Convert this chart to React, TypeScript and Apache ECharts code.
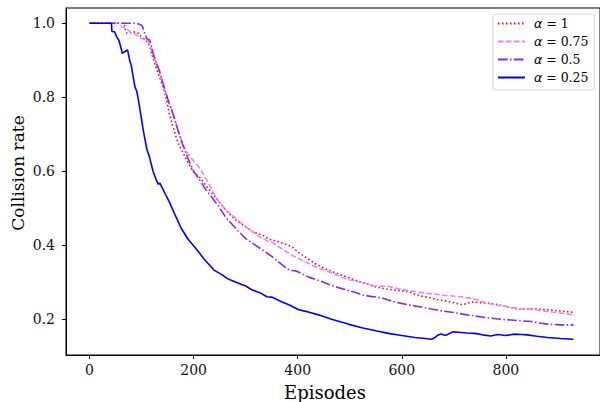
import React, { useEffect, useRef } from "react";
import * as echarts from "echarts";

const xTicks = [0, 200, 400, 600, 800];
const yTicks = [0.2, 0.4, 0.6, 0.8, 1.0];

const seriesNames = ["α = 1", "α = 0.75", "α = 0.5", "α = 0.25"];
const seriesColors = ["#ff0000", "#ee82ee", "#8a2be2", "#0000ff"];

const epRed = [0, 66, 67, 70, 74, 80, 88, 92, 96, 100, 108, 115, 122, 128, 134, 141, 147, 153, 160, 166, 172, 179, 185, 192, 200, 211, 217, 227, 243, 262, 281, 300, 315, 332, 345, 351, 362, 373, 389, 402, 415, 434, 450, 466, 491, 510, 530, 548, 574, 593, 612, 625, 640, 655, 669, 690, 705, 717, 725, 733, 743, 760, 771, 784, 800, 816, 829, 854, 867, 880, 899, 915, 930];
const valRed = [1, 1, 0.995, 0.975, 0.972, 0.975, 0.977, 0.975, 0.968, 0.963, 0.955, 0.94, 0.905, 0.88, 0.856, 0.829, 0.8, 0.757, 0.722, 0.694, 0.67, 0.652, 0.635, 0.617, 0.598, 0.585, 0.574, 0.555, 0.528, 0.495, 0.468, 0.45, 0.435, 0.428, 0.416, 0.415, 0.41, 0.405, 0.396, 0.38, 0.368, 0.35, 0.338, 0.329, 0.316, 0.306, 0.297, 0.288, 0.281, 0.278, 0.275, 0.268, 0.262, 0.258, 0.253, 0.248, 0.243, 0.239, 0.243, 0.247, 0.246, 0.244, 0.243, 0.24, 0.234, 0.23, 0.227, 0.229, 0.227, 0.226, 0.223, 0.221, 0.219];

const epPink = [0, 55, 62, 71, 80, 90, 99, 105, 112, 116, 122, 128, 134, 140, 147, 153, 160, 166, 173, 179, 185, 192, 200, 211, 220, 230, 240, 250, 262, 275, 290, 306, 313, 330, 345, 351, 370, 383, 400, 421, 440, 466, 485, 497, 510, 530, 548, 574, 600, 625, 650, 680, 714, 740, 765, 784, 800, 829, 841, 860, 880, 905, 930];
const valPink = [1, 1, 0.99, 0.986, 0.975, 0.968, 0.959, 0.957, 0.955, 0.94, 0.919, 0.895, 0.873, 0.845, 0.81, 0.785, 0.757, 0.73, 0.697, 0.675, 0.655, 0.642, 0.628, 0.61, 0.59, 0.563, 0.537, 0.515, 0.496, 0.48, 0.462, 0.443, 0.437, 0.42, 0.41, 0.408, 0.39, 0.378, 0.365, 0.351, 0.338, 0.325, 0.314, 0.307, 0.304, 0.297, 0.29, 0.289, 0.28, 0.275, 0.27, 0.265, 0.261, 0.255, 0.243, 0.238, 0.235, 0.228, 0.229, 0.225, 0.221, 0.217, 0.212];

const epViolet = [0, 90, 100, 102, 106, 110, 115, 118, 122, 128, 134, 141, 147, 153, 160, 166, 173, 179, 185, 192, 200, 211, 222, 236, 249, 262, 275, 287, 300, 319, 335, 351, 365, 375, 383, 390, 396, 405, 421, 440, 459, 475, 497, 510, 523, 540, 561, 574, 593, 610, 637, 660, 680, 701, 725, 745, 765, 790, 810, 829, 850, 865, 880, 905, 930];
const valViolet = [1, 1, 0.995, 0.99, 0.973, 0.958, 0.955, 0.945, 0.919, 0.892, 0.872, 0.838, 0.81, 0.783, 0.757, 0.728, 0.697, 0.672, 0.65, 0.625, 0.6, 0.578, 0.553, 0.528, 0.503, 0.475, 0.455, 0.437, 0.418, 0.4, 0.385, 0.369, 0.353, 0.342, 0.334, 0.332, 0.331, 0.325, 0.314, 0.305, 0.295, 0.287, 0.278, 0.273, 0.266, 0.262, 0.258, 0.252, 0.245, 0.24, 0.233, 0.227, 0.222, 0.218, 0.212, 0.208, 0.204, 0.2, 0.198, 0.196, 0.194, 0.19, 0.187, 0.185, 0.185];

const epBlue = [0, 42, 43, 48, 52, 56, 58, 63, 67, 73, 77, 80, 87, 91, 96, 103, 110, 115, 122, 128, 132, 135, 138, 145, 153, 165, 176, 190, 204, 220, 239, 255, 265, 271, 285, 300, 313, 327, 341, 350, 370, 385, 402, 420, 440, 465, 480, 497, 523, 550, 574, 600, 625, 645, 657, 663, 669, 675, 680, 685, 698, 708, 725, 740, 755, 771, 784, 800, 816, 830, 841, 860, 880, 905, 930];
const valBlue = [1, 1, 0.978, 0.977, 0.964, 0.955, 0.946, 0.919, 0.923, 0.928, 0.9, 0.887, 0.829, 0.815, 0.775, 0.712, 0.66, 0.639, 0.6, 0.577, 0.565, 0.568, 0.56, 0.54, 0.518, 0.48, 0.446, 0.415, 0.392, 0.363, 0.333, 0.32, 0.31, 0.306, 0.298, 0.29, 0.279, 0.272, 0.261, 0.26, 0.247, 0.238, 0.226, 0.22, 0.212, 0.2, 0.194, 0.187, 0.177, 0.169, 0.162, 0.156, 0.151, 0.148, 0.146, 0.15, 0.157, 0.16, 0.158, 0.157, 0.166, 0.165, 0.163, 0.162, 0.158, 0.155, 0.159, 0.156, 0.16, 0.159, 0.158, 0.154, 0.151, 0.148, 0.146];

const seriesEpisodes = [epRed, epPink, epViolet, epBlue];
const seriesValues = [valRed, valPink, valViolet, valBlue];
const seriesDash: (number[] | "solid")[] = [[1.5, 2.5], [5.5, 2.4], [9.6, 2.4, 1.5, 2.4], "solid"];

const FONT = "DejaVu Serif";

export default function App() {
  const ref = useRef<HTMLDivElement>(null);
  useEffect(() => {
    if (!ref.current) return;
    const chart = echarts.init(ref.current, undefined, { renderer: "svg" });
    const series = seriesNames.map((name, i) => ({
      name,
      type: "line",
      showSymbol: false,
      symbol: "none",
      data: seriesEpisodes[i].map((e, j) => [e, seriesValues[i][j]]),
      lineStyle: { color: seriesColors[i], width: 1.6, type: seriesDash[i] },
      itemStyle: { color: seriesColors[i] },
      z: 2 + i,
    }));
    chart.setOption({
      animation: false,
      backgroundColor: "#ffffff",
      grid: {
        left: 66,
        right: -3,
        top: 8,
        bottom: 47,
        show: true,
        borderColor: "#000",
        borderWidth: 1,
        containLabel: false,
      },
      xAxis: {
        type: "value",
        min: -45.3,
        max: 980.9,
        splitLine: { show: false },
        axisLine: { show: true, onZero: false, lineStyle: { color: "#000", width: 1 } },
        axisTick: { show: true, inside: false, length: 4, customValues: xTicks, lineStyle: { color: "#000" } },
        axisLabel: {
          customValues: xTicks,
          margin: 8,
          fontFamily: FONT,
          fontSize: 14,
          color: "#111",
        },
      },
      yAxis: {
        type: "value",
        min: 0.1035,
        max: 1.0414,
        splitLine: { show: false },
        axisLine: { show: true, onZero: false, lineStyle: { color: "#000", width: 1 } },
        axisTick: { show: true, inside: false, length: 4, customValues: yTicks, lineStyle: { color: "#000" } },
        axisLabel: {
          customValues: yTicks,
          margin: 11,
          fontFamily: FONT,
          fontSize: 14,
          color: "#111",
          formatter: (v: number) => v.toFixed(1),
        },
      },
      legend: {
        data: seriesNames,
        orient: "vertical",
        left: 493,
        top: 14,
        padding: [3, 6, 6, 4],
        itemWidth: 27,
        itemHeight: 14,
        itemGap: 5,
        backgroundColor: "#fff",
        borderColor: "#d3d3d3",
        borderWidth: 1,
        borderRadius: 3,
        itemStyle: { color: "rgba(0,0,0,0)", borderColor: "rgba(0,0,0,0)", borderWidth: 0, opacity: 0 },
        formatter: (name: string) => name.replace("α", "{i|α}"),
        textStyle: {
          fontFamily: FONT,
          fontSize: 12.5,
          color: "#000",
          padding: [0, 0, 0, 4],
          rich: {
            i: { fontFamily: "DejaVu Sans", fontStyle: "italic", fontSize: 12.5, color: "#000" },
          },
        },
      },
      graphic: [
        {
          type: "text",
          x: 325,
          y: 392,
          style: {
            text: "Episodes",
            fontFamily: FONT,
            fontSize: 18,
            fill: "#000",
            align: "center",
            verticalAlign: "middle",
          },
        },
        {
          type: "text",
          x: 17.5,
          y: 173,
          rotation: Math.PI / 2,
          style: {
            text: "Collision rate",
            fontFamily: FONT,
            fontSize: 17,
            fill: "#000",
            align: "center",
            verticalAlign: "middle",
          },
        },
      ],
      series,
    });
    return () => chart.dispose();
  }, []);
  return <div ref={ref} style={{ position: "fixed", left: 0, top: 0, width: 600, height: 402 }} />;
}
